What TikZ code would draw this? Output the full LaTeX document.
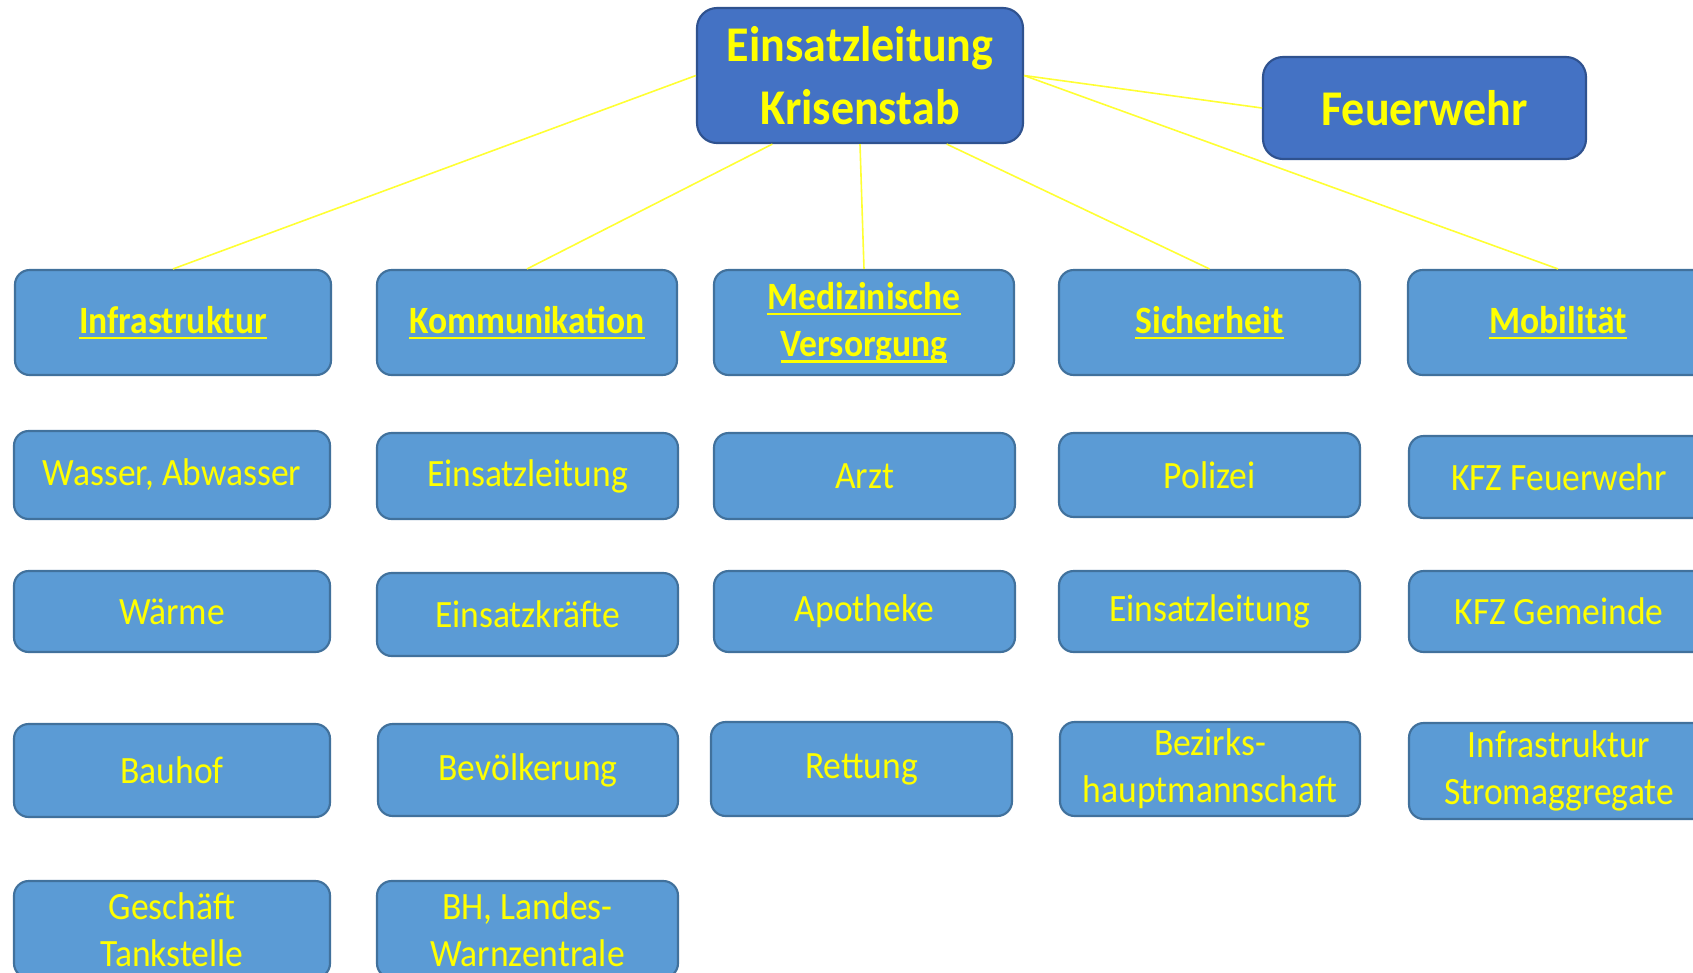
\documentclass[tikz,border=0pt]{standalone}
\usepackage{fontspec}
\setmainfont[FakeStretch=0.92]{Carlito}
\usetikzlibrary{calc}
\definecolor{topfill}{HTML}{4472C4}
\definecolor{topdraw}{HTML}{2F528F}
\definecolor{subfill}{HTML}{5B9BD5}
\definecolor{subdraw}{HTML}{41719C}
\definecolor{txt}{HTML}{FFFF00}
\definecolor{linecol}{HTML}{FFFF33}
\newcommand\myul[1]{\hbox{\setbox0\hbox{#1}\rlap{\rule[-4.6pt]{\wd0}{1.8pt}}\box0}}
\newcommand\bx[7]{\node[#1, minimum width={(#5-(#3))*0.75pt}, minimum height={(#6-(#4))*0.75pt}] (#2) at ({(#3+#5)/2},{(#4+#6)/2}) {#7};}
\tikzset{
  basebox/.style={rectangle, line width=1.6pt, text=txt, align=center, inner sep=0pt},
  topbox/.style={basebox, rounded corners=15pt, fill=topfill, draw=topdraw,
    font=\fontsize{37.5}{47}\selectfont\bfseries},
  headbox/.style={basebox, rounded corners=11pt, fill=subfill, draw=subdraw,
    font=\fontsize{29}{35.5}\selectfont\bfseries},
  itembox/.style={basebox, rounded corners=11pt, fill=subfill, draw=subdraw,
    font=\fontsize{29}{35.5}\selectfont},
  conn/.style={draw=linecol, line width=1.2pt}
}
\begin{document}
\begin{tikzpicture}[x=0.75pt,y=-0.75pt]
\useasboundingbox (0,0) rectangle (1693,972);
% top level
\bx{topbox}{top}{697}{8}{1023}{143}{Einsatzleitung\\Krisenstab}
\bx{topbox}{feuer}{1263}{57}{1586}{159}{Feuerwehr}
% row 1
\bx{headbox}{infra}{15}{270}{331}{375}{\myul{Infrastruktur}}
\bx{headbox}{komm}{377}{270}{677}{375}{\myul{Kommunikation}}
\bx{headbox}{med}{714}{270}{1014}{375}{\myul{Medizinische}\\\myul{Versorgung}}
\bx{headbox}{sich}{1059}{270}{1360}{375}{\myul{Sicherheit}}
\bx{headbox}{mob}{1408}{270}{1708}{375}{\myul{Mobilität}}
% row 2
\bx{itembox}{a2}{14}{431}{330}{519}{Wasser, Abwasser}
\bx{itembox}{b2}{377}{433}{678}{519}{Einsatzleitung}
\bx{itembox}{c2}{714}{433}{1015}{519}{Arzt}
\bx{itembox}{d2}{1059}{433}{1360}{517}{Polizei}
\bx{itembox}{e2}{1409}{436}{1709}{518}{KFZ Feuerwehr}
% row 3
\bx{itembox}{a3}{14}{571}{330}{652}{Wärme}
\bx{itembox}{b3}{377}{573}{678}{656}{Einsatzkräfte}
\bx{itembox}{c3}{714}{571}{1015}{652}{Apotheke}
\bx{itembox}{d3}{1059}{571}{1360}{652}{Einsatzleitung}
\bx{itembox}{e3}{1409}{571}{1709}{652}{KFZ Gemeinde}
% row 4
\bx{itembox}{a4}{14}{724}{330}{817}{Bauhof}
\bx{itembox}{b4}{378}{724}{678}{816}{Bevölkerung}
\bx{itembox}{c4}{711}{722}{1012}{816}{Rettung}
\bx{itembox}{d4}{1060}{722}{1360}{816}{Bezirks-\\hauptmannschaft}
\bx{itembox}{e4}{1409}{723}{1709}{819}{Infrastruktur\\Stromaggregate}
% row 5
\bx{itembox}{a5}{14}{881}{330}{978}{Geschäft\\Tankstelle}
\bx{itembox}{b5}{377}{881}{678}{978}{BH, Landes-\\Warnzentrale}
% connectors
\draw[conn] (top.west) -- (infra.north);
\draw[conn] ($(top.south west)!0.233!(top.south east)$) -- (komm.north);
\draw[conn] (top.south) -- (med.north);
\draw[conn] ($(top.south west)!0.764!(top.south east)$) -- (sich.north);
\draw[conn] (top.east) -- (mob.north);
\draw[conn] (top.east) -- (feuer.west);
\end{tikzpicture}
\end{document}
